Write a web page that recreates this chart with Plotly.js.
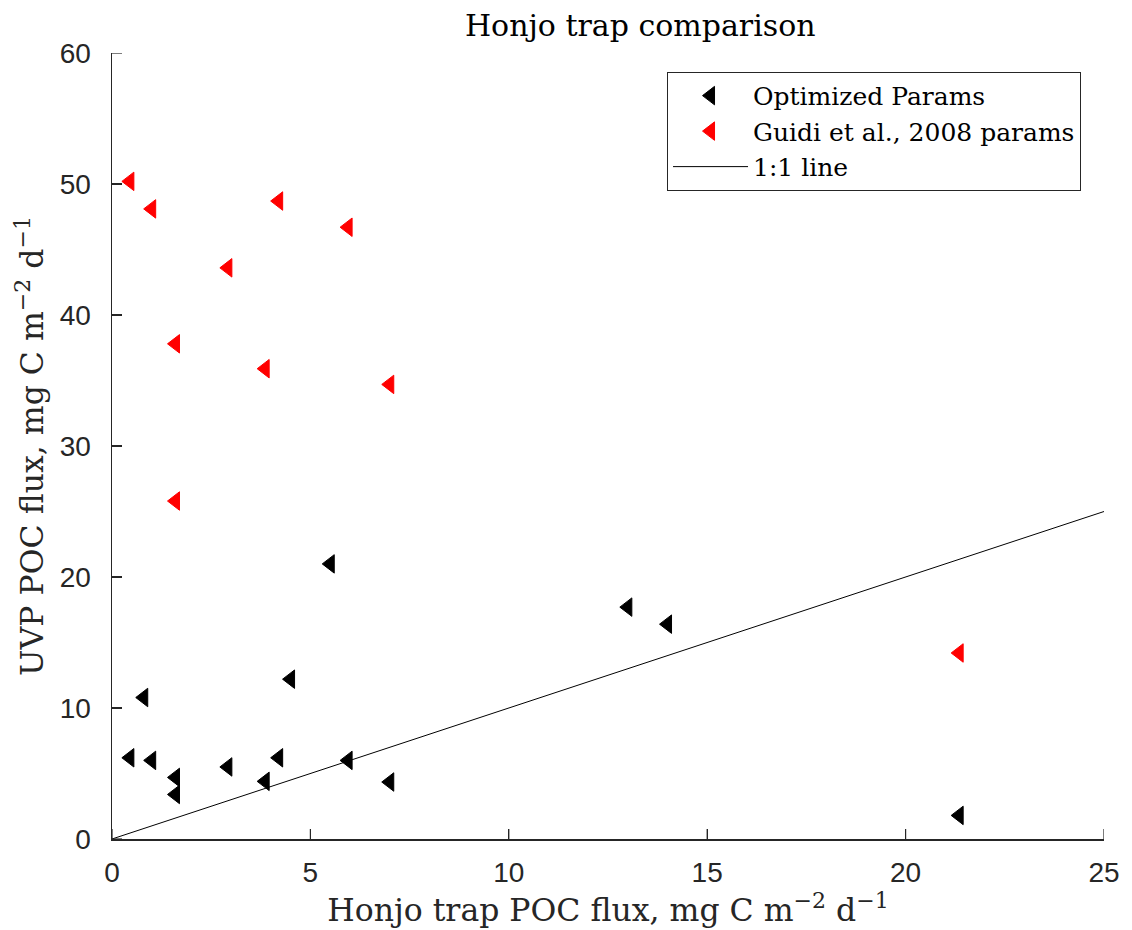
<!DOCTYPE html>
<html>
<head>
<meta charset="utf-8">
<script src="https://cdn.plot.ly/plotly-3.0.1.min.js"></script>
<style>body{margin:0;padding:0;background:#fff;} #chart{width:1132px;height:930px;}</style>
</head>
<body>
<div id="chart"></div>
<script>
// Honjo trap POC flux (x) and UVP POC flux (y) for each series
const optX = [0.45, 1.0, 0.8, 1.6, 1.6, 2.92, 3.86, 4.2, 4.5, 5.5, 5.95, 7.0, 13.0, 14.0, 21.35];
const optY = [6.2, 6.0, 10.8, 4.7, 3.4, 5.5, 4.4, 6.2, 12.2, 21.0, 6.0, 4.35, 17.7, 16.4, 1.8];
const guidiX = [0.45, 1.0, 4.2, 5.95, 2.92, 1.6, 3.86, 7.0, 1.6, 21.35];
const guidiY = [50.2, 48.1, 48.7, 46.7, 43.6, 37.8, 35.9, 34.7, 25.8, 14.2];
const lineX = [0, 25];
const lineY = [0, 25];
const seriesNames = ['Optimized Params', 'Guidi et al., 2008 params', '1:1 line'];
const xTicks = [0, 5, 10, 15, 20, 25];
const yTicks = [0, 10, 20, 30, 40, 50, 60];

const serif = 'DejaVu Serif, Liberation Serif, serif';
const sans = 'Liberation Sans, Arial, sans-serif';
const axisCol = '#262626';

const W = 1132, H = 930;
const margin = {l: 112, r: 28, t: 53, b: 91};
const plotW = W - margin.l - margin.r, plotH = H - margin.t - margin.b;
const tickLen = 10;

const traces = [
  {x: optX, y: optY, type: 'scatter', mode: 'markers', name: seriesNames[0],
   marker: {symbol: 'triangle-left', size: 16, color: '#000000', line: {width: 1, color: '#000000'}}},
  {x: guidiX, y: guidiY, type: 'scatter', mode: 'markers', name: seriesNames[1],
   marker: {symbol: 'triangle-left', size: 16, color: '#ff0000', line: {width: 1, color: '#ff0000'}}},
  {x: lineX, y: lineY, type: 'scatter', mode: 'lines', name: seriesNames[2],
   line: {color: '#000000', width: 1}}
];

// inward tick marks along the left and bottom axes
const tickShapes = [].concat(
  xTicks.map(v => ({type: 'line', xref: 'x', yref: 'paper', x0: v, x1: v, y0: 0, y1: tickLen / plotH,
                    line: {color: axisCol, width: 1.2}, layer: 'above'})),
  yTicks.map(v => ({type: 'line', xref: 'paper', yref: 'y', x0: 0, x1: tickLen / plotW, y0: v, y1: v,
                    line: {color: axisCol, width: 1.2}, layer: 'above'}))
);

const layout = {
  width: W, height: H,
  margin: margin,
  paper_bgcolor: '#ffffff', plot_bgcolor: '#ffffff',
  showlegend: true,
  shapes: tickShapes,
  title: {text: 'Honjo trap comparison', font: {family: serif, size: 30, color: '#000'},
          x: 0.5325, xref: 'paper', xanchor: 'center', yref: 'container', y: 0.973, yanchor: 'middle'},
  xaxis: {
    range: [0, 25], tickvals: xTicks, ticktext: xTicks.map(String), showgrid: false, zeroline: false,
    showline: true, linecolor: axisCol, linewidth: 1.5, mirror: false,
    ticks: 'inside', ticklen: tickLen, tickcolor: axisCol, tickwidth: 1.2,
    ticklabelstandoff: 8,
    tickfont: {family: sans, size: 28, color: axisCol},
    title: {text: 'Honjo trap POC flux, mg C m<sup>\u22122</sup> d<sup>\u22121</sup>',
            font: {family: serif, size: 31.5, color: axisCol}, standoff: 2}
  },
  yaxis: {
    range: [0, 60], tickvals: yTicks, ticktext: yTicks.map(String), showgrid: false, zeroline: false,
    showline: true, linecolor: axisCol, linewidth: 1.5, mirror: false,
    ticks: 'inside', ticklen: tickLen, tickcolor: axisCol, tickwidth: 1.2,
    ticklabelstandoff: 14,
    tickfont: {family: sans, size: 28, color: axisCol},
    title: {text: 'UVP POC flux, mg C m<sup>\u22122</sup> d<sup>\u22121</sup>',
            font: {family: serif, size: 31.5, color: axisCol}, standoff: 6}
  },
  legend: {
    x: 0.5595, xanchor: 'left', y: 0.976, yanchor: 'top',
    bgcolor: '#ffffff', bordercolor: axisCol, borderwidth: 1,
    font: {family: serif, size: 25, color: '#000'},
    itemwidth: 75,
    tracegroupgap: 0
  }
};

Plotly.newPlot('chart', traces, layout, {displayModeBar: false, staticPlot: true});
</script>
</body>
</html>
